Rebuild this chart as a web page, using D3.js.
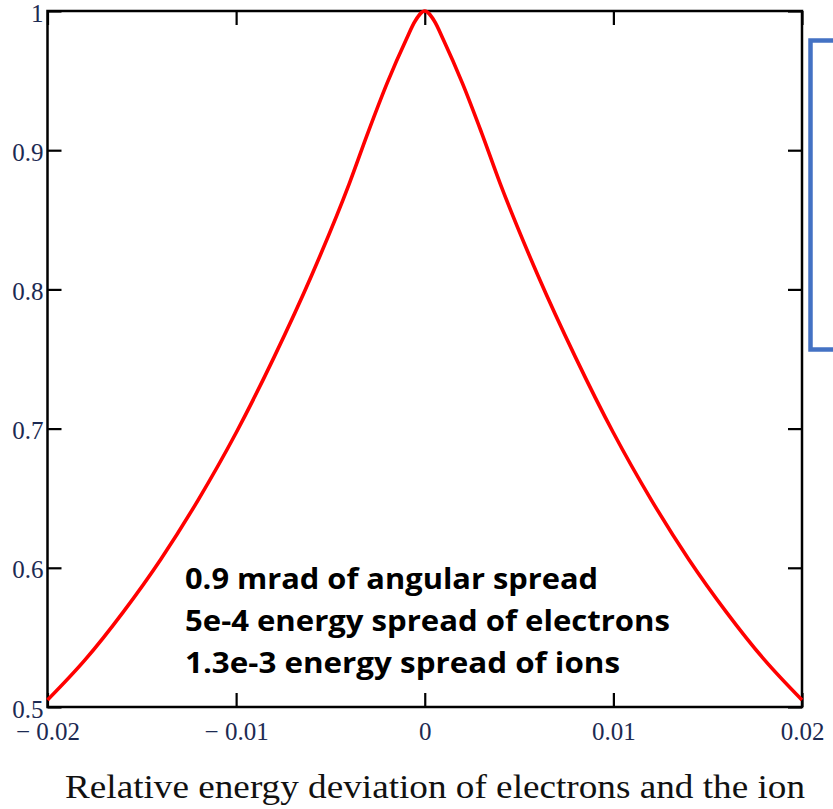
<!DOCTYPE html>
<html>
<head>
<meta charset="utf-8">
<script src="https://cdn.jsdelivr.net/npm/d3@7"></script>
<style>
  body { margin: 0; background: #fff; }
  svg { display: block; }
</style>
</head>
<body>
<script>
// values
const deviation = [-0.02, -0.018, -0.016, -0.014, -0.012, -0.010, -0.008, -0.006, -0.004, -0.003, -0.002, -0.001, -0.0005, 0,
  0.0005, 0.001, 0.002, 0.003, 0.004, 0.006, 0.008, 0.010, 0.012, 0.014, 0.016, 0.018, 0.02]
const rate = [0.505, 0.534, 0.568, 0.606, 0.649, 0.697, 0.751, 0.810, 0.876, 0.913, 0.948, 0.979, 0.993, 1,
  0.993, 0.979, 0.948, 0.913, 0.876, 0.810, 0.751, 0.697, 0.649, 0.606, 0.568, 0.534, 0.505]
const xTicks = [-0.02, -0.01, 0, 0.01, 0.02]
const xTickLabels = ['\u2212 0.02', '\u2212 0.01', '0', '0.01', '0.02']
const yTicks = [0.5, 0.6, 0.7, 0.8, 0.9, 1]
const yTickLabels = ['0.5', '0.6', '0.7', '0.8', '0.9', '1']
const notes = ['0.9 mrad of angular spread', '5e-4 energy spread of electrons', '1.3e-3 energy spread of ions']
const noteWidths = [413, 485, 435]
const xTitle = 'Relative energy deviation of electrons and the ion'

const W = 833, H = 809
const plot = {left: 47.5, right: 802, top: 11, bottom: 707}

const svg = d3.select('body').append('svg')
  .attr('width', W)
  .attr('height', H)

const x = d3.scaleLinear().domain([-0.02, 0.02]).range([plot.left, plot.right])
const y = d3.scaleLinear().domain([0.5, 1]).range([plot.bottom, plot.top])

const tickFont = (g) => g.selectAll('text')
  .attr('font-family', '"Liberation Serif", "Times New Roman", serif')
  .attr('font-size', 25)
  .attr('fill', '#1c2a52')

const tickLines = (g) => {
  g.select('.domain').remove()
  g.selectAll('line').attr('stroke', '#000').attr('stroke-width', 2.2)
}

// bottom axis, ticks inward
svg.append('g')
  .attr('transform', `translate(0,${plot.bottom})`)
  .call(d3.axisBottom(x).tickValues(xTicks).tickSize(-14).tickPadding(15)
    .tickFormat((d, i) => xTickLabels[i]))
  .call(tickLines).call(tickFont)

// top axis, marks only
svg.append('g')
  .attr('transform', `translate(0,${plot.top})`)
  .call(d3.axisTop(x).tickValues(xTicks).tickSize(-14).tickFormat(''))
  .call(tickLines)

// left axis
svg.append('g')
  .attr('transform', `translate(${plot.left},0)`)
  .call(d3.axisLeft(y).tickValues(yTicks).tickSize(-14).tickPadding(4)
    .tickFormat((d, i) => yTickLabels[i]))
  .call(tickLines).call(tickFont)
  .selectAll('text').attr('dy', '0.4em')

// right axis, marks only
svg.append('g')
  .attr('transform', `translate(${plot.right},0)`)
  .call(d3.axisRight(y).tickValues(yTicks).tickSize(-14).tickFormat(''))
  .call(tickLines)

// frame
svg.append('rect')
  .attr('x', plot.left).attr('y', plot.top)
  .attr('width', plot.right - plot.left).attr('height', plot.bottom - plot.top)
  .attr('fill', 'none').attr('stroke', '#000').attr('stroke-width', 2.5)

// curve
const line = d3.line()
  .x((d, i) => x(deviation[i]))
  .y((d) => y(d))
  .curve(d3.curveMonotoneX)

svg.append('path')
  .datum(rate)
  .attr('d', line)
  .attr('fill', 'none')
  .attr('stroke', '#ff0000')
  .attr('stroke-width', 3.6)

// annotation
svg.append('g').selectAll('text').data(notes).join('text')
  .attr('x', 185)
  .attr('y', (d, i) => 589 + i * 42)
  .attr('font-family', '"Open Sans", Lato, sans-serif')
  .attr('font-weight', 'bold')
  .attr('font-size', 28)
  .attr('fill', '#000')
  .attr('textLength', (d, i) => noteWidths[i])
  .attr('lengthAdjust', 'spacingAndGlyphs')
  .text((d) => d)

// x title
svg.append('text')
  .attr('x', 435)
  .attr('y', 798)
  .attr('text-anchor', 'middle')
  .attr('font-family', '"Liberation Serif", "Times New Roman", serif')
  .attr('font-size', 34)
  .attr('fill', '#111')
  .attr('textLength', 740)
  .attr('lengthAdjust', 'spacingAndGlyphs')
  .text(xTitle)

// blue box cut off at the right edge
svg.append('rect')
  .attr('x', 810.5).attr('y', 40.5)
  .attr('width', 60).attr('height', 309)
  .attr('fill', 'none')
  .attr('stroke', '#4472c4')
  .attr('stroke-width', 4.5)
</script>
</body>
</html>
